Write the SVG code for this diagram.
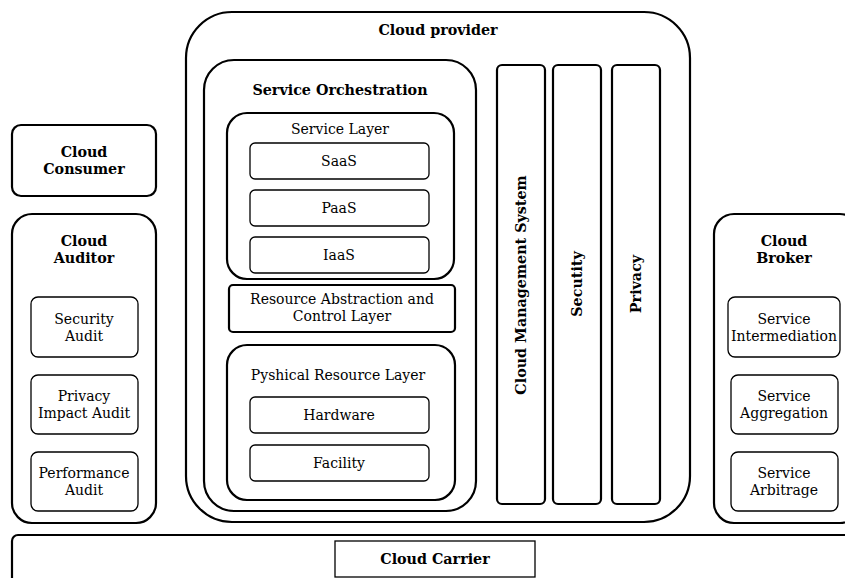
<svg xmlns="http://www.w3.org/2000/svg" width="845" height="578" viewBox="0 0 845 578">
<style>
.b{fill:#fff;stroke:#000;stroke-width:2.2}
.s{fill:#fff;stroke:#000;stroke-width:1.3}
.t{font-family:"DejaVu Serif",serif;font-size:14px;fill:#000;text-anchor:middle}
.h{font-family:"DejaVu Serif",serif;font-size:14.3px;font-weight:bold;fill:#000;text-anchor:middle}
</style>
<rect width="845" height="578" fill="#fff"/>
<g id="cloud-provider">
<rect class="b" x="186" y="12" width="504" height="510" rx="46"/>
<text class="h" x="438" y="35">Cloud provider</text>
</g>
<g id="service-orchestration">
<rect class="b" x="204" y="60" width="272" height="451" rx="30"/>
<text class="h" x="340" y="95">Service Orchestration</text>
</g>
<g id="service-layer">
<rect class="b" x="227" y="113" width="227" height="166" rx="20"/>
<text class="t" x="340" y="134">Service Layer</text>
</g>
<g id="saas"><rect class="s" x="250" y="143" width="179" height="36" rx="5"/><text class="t" x="339" y="166">SaaS</text></g>
<g id="paas"><rect class="s" x="250" y="190" width="179" height="36" rx="5"/><text class="t" x="339" y="213">PaaS</text></g>
<g id="iaas"><rect class="s" x="250" y="237" width="179" height="36" rx="5"/><text class="t" x="339" y="260">IaaS</text></g>
<g id="resource-abstraction">
<rect class="b" x="229" y="285" width="226" height="47" rx="4"/>
<text class="t" x="342" y="304">Resource Abstraction and</text>
<text class="t" x="342" y="321">Control Layer</text>
</g>
<g id="physical-resource-layer">
<rect class="b" x="227" y="345" width="228" height="155" rx="20"/>
<text class="t" x="338" y="380">Pyshical Resource Layer</text>
</g>
<g id="hardware"><rect class="s" x="250" y="397" width="179" height="36" rx="5"/><text class="t" x="339" y="420">Hardware</text></g>
<g id="facility"><rect class="s" x="250" y="445" width="179" height="36" rx="5"/><text class="t" x="339" y="468">Facility</text></g>
<g id="cloud-management-system">
<rect class="b" x="497" y="65" width="48" height="439" rx="5"/>
<text class="h" transform="translate(526,285) rotate(-90)">Cloud Management System</text>
</g>
<g id="secutity">
<rect class="b" x="553" y="65" width="48" height="439" rx="5"/>
<text class="h" transform="translate(582,284) rotate(-90)">Secutity</text>
</g>
<g id="privacy">
<rect class="b" x="612" y="65" width="48" height="439" rx="5"/>
<text class="h" transform="translate(641,284) rotate(-90)">Privacy</text>
</g>
<g id="cloud-consumer">
<rect class="b" x="12" y="125" width="144" height="71" rx="9"/>
<text class="h" x="84" y="157">Cloud</text>
<text class="h" x="84" y="174">Consumer</text>
</g>
<g id="cloud-auditor">
<rect class="b" x="12" y="214" width="144" height="309" rx="20"/>
<text class="h" x="84" y="246">Cloud</text>
<text class="h" x="84" y="263">Auditor</text>
</g>
<g id="security-audit"><rect class="s" x="31" y="297" width="107" height="60" rx="7"/><text class="t" x="84" y="324">Security</text><text class="t" x="84" y="341">Audit</text></g>
<g id="privacy-impact-audit"><rect class="s" x="31" y="375" width="107" height="59" rx="7"/><text class="t" x="84" y="401">Privacy</text><text class="t" x="84" y="418">Impact Audit</text></g>
<g id="performance-audit"><rect class="s" x="31" y="452" width="107" height="59" rx="7"/><text class="t" x="84" y="478">Performance</text><text class="t" x="84" y="495">Audit</text></g>
<g id="cloud-broker">
<rect class="b" x="714" y="214" width="146" height="309" rx="20"/>
<text class="h" x="784" y="246">Cloud</text>
<text class="h" x="784" y="263">Broker</text>
</g>
<g id="service-intermediation"><rect class="s" x="728" y="297" width="112" height="60" rx="7"/><text class="t" x="784" y="324">Service</text><text class="t" x="784" y="341">Intermediation</text></g>
<g id="service-aggregation"><rect class="s" x="731" y="375" width="107" height="59" rx="7"/><text class="t" x="784" y="401">Service</text><text class="t" x="784" y="418">Aggregation</text></g>
<g id="service-arbitrage"><rect class="s" x="731" y="452" width="107" height="59" rx="7"/><text class="t" x="784" y="478">Service</text><text class="t" x="784" y="495">Arbitrage</text></g>
<g id="cloud-carrier">
<rect class="b" x="12" y="535" width="850" height="60" rx="6"/>
<rect class="s" x="335" y="541" width="200" height="36"/>
<text class="h" x="435" y="564">Cloud Carrier</text>
</g>
<g id="connectors"></g>
</svg>
